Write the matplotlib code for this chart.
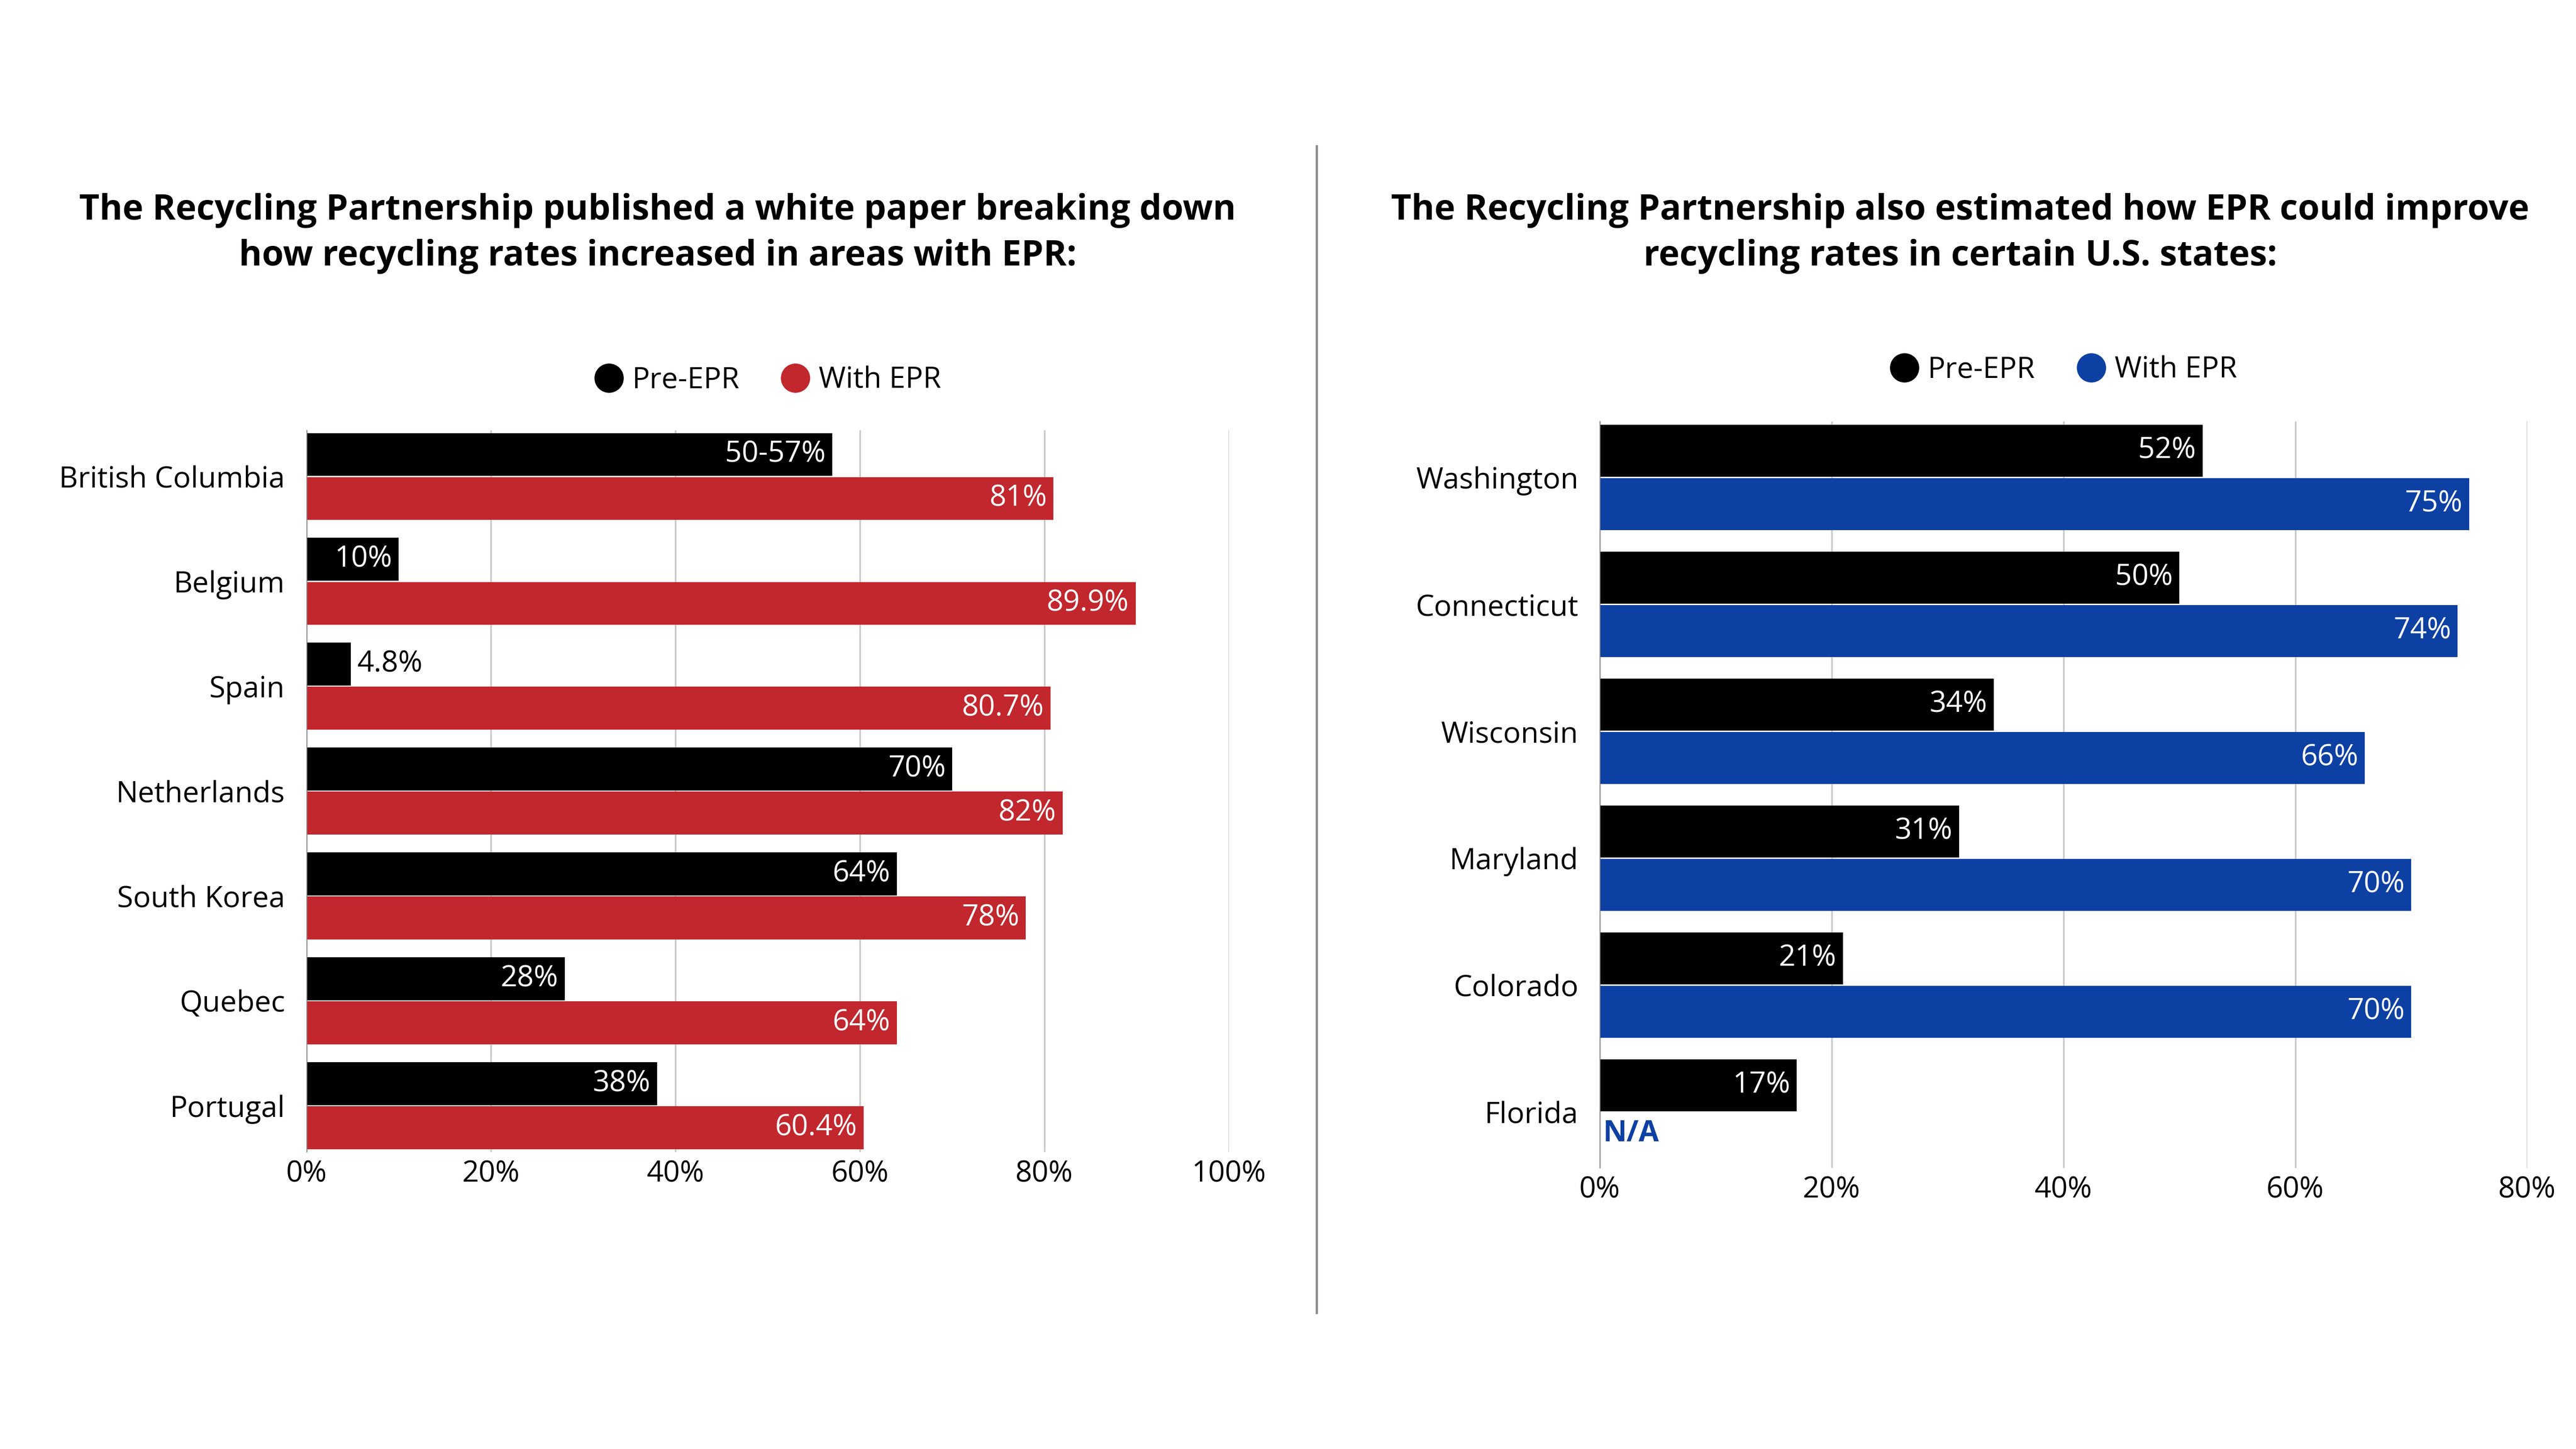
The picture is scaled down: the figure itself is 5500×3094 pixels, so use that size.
import matplotlib
matplotlib.use('Agg')
import matplotlib.pyplot as plt
from matplotlib.lines import Line2D

# Left panel data (countries / provinces)
countries = ['British Columbia', 'Belgium', 'Spain', 'Netherlands',
             'South Korea', 'Quebec', 'Portugal']
country_pre = [57, 10, 4.8, 70, 64, 28, 38]
country_pre_labels = ['50-57%', '10%', '4.8%', '70%', '64%', '28%', '38%']
country_epr = [81, 89.9, 80.7, 82, 78, 64, 60.4]
country_epr_labels = ['81%', '89.9%', '80.7%', '82%', '78%', '64%', '60.4%']

# Right panel data (U.S. states)
states = ['Washington', 'Connecticut', 'Wisconsin', 'Maryland', 'Colorado', 'Florida']
state_pre = [52, 50, 34, 31, 21, 17]
state_epr = [75, 74, 66, 70, 70, None]

RED = '#C1272D'
BLUE = '#0C40A3'
GRID = '#C8C8C8'

plt.rcParams['font.family'] = ['Open Sans', 'DejaVu Sans']

fig = plt.figure(figsize=(55, 30.94), dpi=100)
ax1 = fig.add_axes([0.119, 0.205, 0.358, 0.498])
ax2 = fig.add_axes([0.621, 0.194, 0.360, 0.515])

BAR_H = 0.41
OFF = 0.21
LBL = 45


def style_axis(ax, cats, xmax):
    ax.set_xlim(0, xmax)
    ax.set_ylim(len(cats) - 1 + 0.44, -0.44)
    ax.set_yticks(range(len(cats)))
    ax.set_yticklabels(cats, fontsize=LBL)
    ticks = list(range(0, xmax + 1, 20))
    ax.set_xticks(ticks)
    ax.set_xticklabels([f'{t}%' for t in ticks], fontsize=LBL)
    ax.tick_params(axis='both', length=0)
    ax.tick_params(axis='y', pad=33)
    ax.tick_params(axis='x', pad=12)
    for s in ['top', 'right', 'bottom']:
        ax.spines[s].set_visible(False)
    ax.spines['left'].set_color('#999999')
    ax.spines['left'].set_linewidth(1.5)
    ax.grid(axis='x', color=GRID, linewidth=2.5)
    ax.set_axisbelow(True)


def inside_label(ax, x, y, text):
    ax.annotate(text, (x, y), xytext=(-10, 0), textcoords='offset points',
                ha='right', va='center', color='white', fontsize=LBL)


# ---- left panel ----
style_axis(ax1, countries, 100)
for i in range(len(countries)):
    ax1.barh(i - OFF, country_pre[i], height=BAR_H, color='black')
    ax1.barh(i + OFF, country_epr[i], height=BAR_H, color=RED)
    if country_pre[i] < 8:
        ax1.annotate(country_pre_labels[i], (country_pre[i], i - OFF), xytext=(10, 0),
                     textcoords='offset points', ha='left', va='center',
                     color='black', fontsize=LBL)
    else:
        inside_label(ax1, country_pre[i], i - OFF, country_pre_labels[i])
    inside_label(ax1, country_epr[i], i + OFF, country_epr_labels[i])

# ---- right panel ----
style_axis(ax2, states, 80)
for i in range(len(states)):
    ax2.barh(i - OFF, state_pre[i], height=BAR_H, color='black')
    inside_label(ax2, state_pre[i], i - OFF, f'{state_pre[i]}%')
    if state_epr[i] is None:
        ax2.annotate('N/A', (0, i + OFF), xytext=(5, 8), textcoords='offset points',
                     ha='left', va='center', color=BLUE, fontsize=LBL,
                     fontweight='bold')
    else:
        ax2.barh(i + OFF, state_epr[i], height=BAR_H, color=BLUE)
        inside_label(ax2, state_epr[i], i + OFF, f'{state_epr[i]}%')

# legends
for ax, col in [(ax1, RED), (ax2, BLUE)]:
    handles = [Line2D([], [], marker='o', linestyle='', color='black', markersize=44),
               Line2D([], [], marker='o', linestyle='', color=col, markersize=44)]
    ax.legend(handles, ['Pre-EPR', 'With EPR'], loc='center', bbox_to_anchor=(0.5, 1.069),
              ncol=2, frameon=False, fontsize=LBL, handletextpad=0.3,
              columnspacing=1.4, handlelength=1.0)

# titles
fig.text(0.2553, 0.839,
         'The Recycling Partnership published a white paper breaking down\n'
         'how recycling rates increased in areas with EPR:',
         ha='center', va='center', fontsize=54, fontweight='bold', linespacing=1.4)
fig.text(0.761, 0.839,
         'The Recycling Partnership also estimated how EPR could improve\n'
         'recycling rates in certain U.S. states:',
         ha='center', va='center', fontsize=54, fontweight='bold', linespacing=1.4)

# separator
fig.add_artist(Line2D([0.511, 0.511], [0.094, 0.899], color='#8C8C8C', linewidth=3.5,
                      transform=fig.transFigure))

fig.savefig('out.png', dpi=100, facecolor='white')
